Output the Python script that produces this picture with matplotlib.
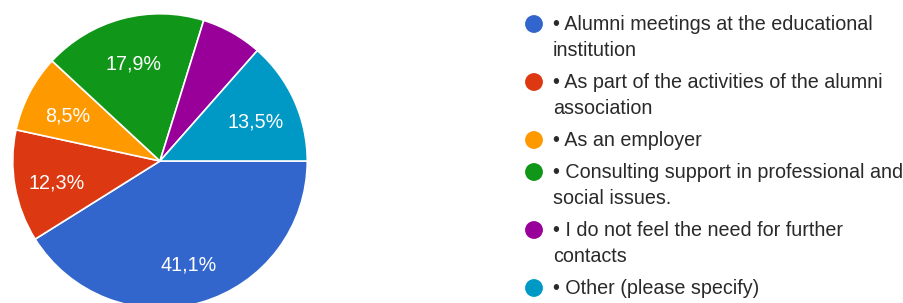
import matplotlib
matplotlib.use("Agg")
import matplotlib.pyplot as plt

# datos del grafico
categorias = [
    "• Alumni meetings at the educational\ninstitution",
    "• As part of the activities of the alumni\nassociation",
    "• As an employer",
    "• Consulting support in professional and\nsocial issues.",
    "• I do not feel the need for further\ncontacts",
    "• Other (please specify)",
]
porcentajes = [41.1, 12.3, 8.5, 17.9, 6.7, 13.5]
colores = ["#3366cc", "#dc3912", "#ff9900", "#109618", "#990099", "#0099c6"]

plt.rcParams['font.family'] = ['Liberation Sans', 'DejaVu Sans']

W, H = 904, 303
fig = plt.figure(figsize=(W / 100, H / 100), dpi=100)

# tarta: centro (160, 161) px desde arriba, radio 148 px
cx, cy, r = 160, 161, 148
ax = fig.add_axes([(cx - r) / W, (H - cy - r) / H, 2 * r / W, 2 * r / H])


def etiqueta(p):
    # google no rotula las porciones pequenas
    if p < 7:
        return ''
    return f"{p:.1f}%".replace('.', ',')


wedges, textos, autotextos = ax.pie(
    porcentajes, colors=colores, startangle=0, counterclock=False,
    autopct=etiqueta, pctdistance=0.71, radius=1,
    wedgeprops=dict(edgecolor='white', linewidth=1.2),
    textprops=dict(color='white', fontsize=14.2))
for t in autotextos:
    x0, y0 = t.get_position()
    t.set_position((x0, y0 - 0.025))
ax.set_xlim(-1.005, 1.005)
ax.set_ylim(-1.005, 1.005)
ax.set_aspect('equal')
ax.axis('off')

# leyenda manual
lg = fig.add_axes([0, 0, 1, 1], frameon=False)
lg.set_xlim(0, W)
lg.set_ylim(H, 0)
lg.axis('off')

y = 24
paso_linea = 26
hueco = 6
for cat, col in zip(categorias, colores):
    lg.scatter([534], [y], s=165, color=col, edgecolor='none')
    lineas = cat.split('\n')
    for i, linea in enumerate(lineas):
        lg.text(553, y + i * paso_linea, linea, fontsize=14.2, color='#2a2a2a',
                va='center', ha='left')
    y += len(lineas) * paso_linea + hueco

fig.savefig('out.png', dpi=100)
